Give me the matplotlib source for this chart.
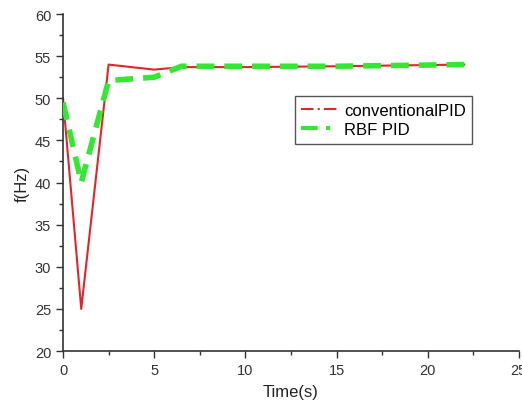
import matplotlib
matplotlib.use("Agg")
import matplotlib.pyplot as plt
from matplotlib.lines import Line2D
from matplotlib.ticker import MultipleLocator

plt.rcParams['font.family'] = ['Liberation Sans', 'DejaVu Sans']

time_pid = [0, 1, 2.5, 5, 6.5, 10, 15, 22]
f_pid = [50, 25, 54, 53.4, 53.7, 53.7, 53.8, 54]
time_rbf = [0, 1, 2.5, 5, 6.5, 10, 15, 22]
f_rbf = [49.5, 40, 52.1, 52.5, 53.8, 53.8, 53.8, 54]
labels = ["conventionalPID", "RBF PID"]

red = "#e0262a"
green = "#33e833"

fig = plt.figure(figsize=(5.22, 4.06), dpi=100)
ax = fig.add_axes([0.1207, 0.133, 0.8733, 0.830])
ax.plot(time_pid, f_pid, color=red, lw=1.5, zorder=2)
ax.plot(time_rbf, f_rbf, color=green, lw=4, dashes=(3.2, 1.8), zorder=3)

ax.set_xlim(0, 25)
ax.set_ylim(20, 60)
ax.xaxis.set_major_locator(MultipleLocator(5))
ax.xaxis.set_minor_locator(MultipleLocator(2.5))
ax.yaxis.set_major_locator(MultipleLocator(5))
ax.yaxis.set_minor_locator(MultipleLocator(2.5))
for s in ['top', 'right']:
    ax.spines[s].set_visible(False)
for s in ['left', 'bottom']:
    ax.spines[s].set_color('#333333')
    ax.spines[s].set_linewidth(1.2)
ax.tick_params(which='major', direction='out', length=5, width=1, colors='#333333', labelsize=10.5)
ax.tick_params(which='minor', direction='out', length=3, width=1, colors='#333333')
ax.set_xlabel("Time(s)", fontsize=12, color='#222222', labelpad=5)
ax.set_ylabel("f(Hz)", fontsize=12, color='#222222')

handles = [Line2D([], [], color=red, lw=1.5, dashes=(6, 2, 1, 2)),
           Line2D([], [], color=green, lw=3, dashes=(4, 2, 1, 2), dash_capstyle='butt')]
leg = ax.legend(handles, labels, loc='upper left', bbox_to_anchor=(0.49, 0.78),
                fancybox=False, framealpha=1, edgecolor='#555555', fontsize=12,
                handlelength=2.2, handletextpad=0.35, borderpad=0.4, labelspacing=0.25)
leg.get_frame().set_linewidth(1.0)

fig.savefig("out.png", dpi=100)
